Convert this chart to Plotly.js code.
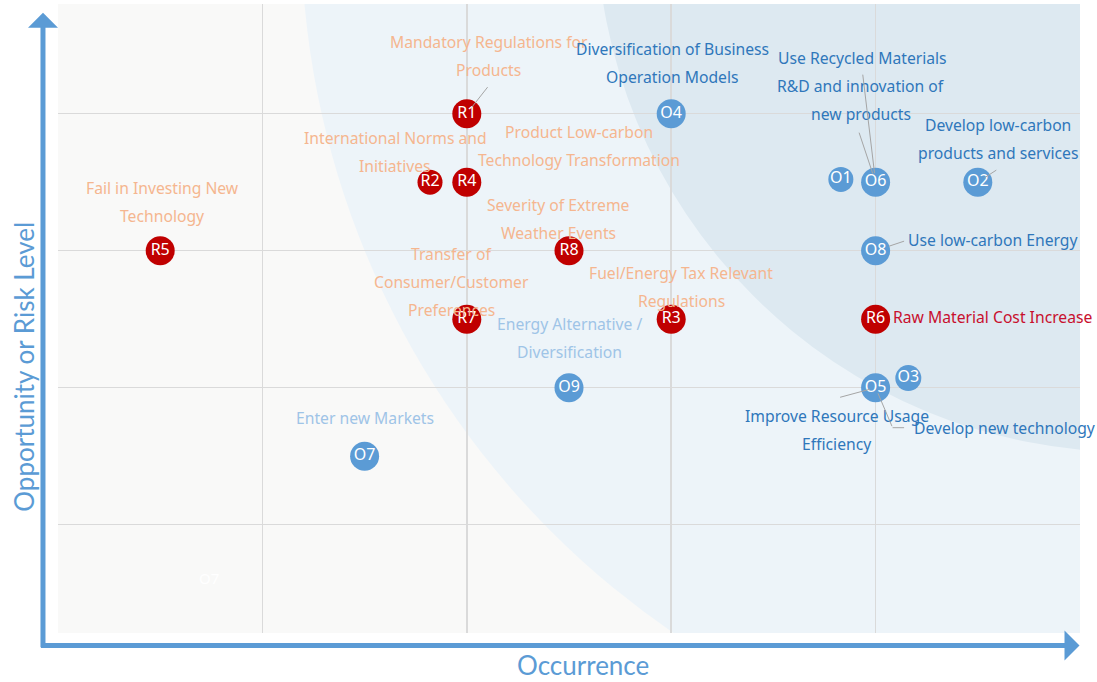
<!DOCTYPE html>
<html>
<head>
<meta charset="utf-8">
<script src="https://cdn.plot.ly/plotly-3.0.1.min.js"></script>
<style>
  html, body { margin: 0; padding: 0; background: #fff; }
  #chart { width: 1097px; height: 682px; }
</style>
</head>
<body>
<div id="chart"></div>
<script>
// risk / opportunity items
var codes      = ['R1', 'R2', 'R3', 'R4', 'R5', 'R6', 'R7', 'R8',
                  'O1', 'O2', 'O3', 'O4', 'O5', 'O6', 'O7', 'O8', 'O9'];
var occurrence = [2, 1.82, 3, 2, 0.5, 4, 2, 2.5,
                  3.83, 4.5, 4.16, 3, 4, 4, 1.5, 4, 2.5];
var level      = [4, 3.5, 2.5, 3.5, 3, 2.5, 2.5, 3,
                  3.52, 3.5, 2.07, 4, 2, 3.5, 1.5, 3, 2];

// descriptions, and the item each one belongs to
var labelFor  = ['R1', 'R2', 'R4', 'R5', 'R8', 'R7', 'R3', 'R6',
                 'O4', 'O6', 'O6', 'O2', 'O8', 'O5', 'O5', 'O9', 'O7'];
var labelText = [
  'Mandatory Regulations for<br>Products',
  'International Norms and<br>Initiatives',
  'Product Low-carbon<br>Technology Transformation',
  'Fail in Investing New<br>Technology',
  'Severity of Extreme<br>Weather Events',
  'Transfer of<br>Consumer/Customer<br>Preferences',
  'Fuel/Energy Tax Relevant<br>Regulations',
  'Raw Material Cost Increase',
  'Diversification of Business<br>Operation Models',
  'Use Recycled Materials',
  'R&D and innovation of<br>new products',
  'Develop low-carbon<br>products and services',
  'Use low-carbon Energy',
  'Improve Resource Usage<br>Efficiency',
  'Develop new technology',
  'Energy Alternative /<br>Diversification',
  'Enter new Markets'
];

// label placement (pixels from the marker to the text block centre) and look
var labelDx = [22, -35, 112, 2, -11, -15, 10, 117, 1, -13, -15, 20, 117, -39, 129, 0, 0];
var labelDy = [-58, -30, -36, -49, -32, -37, -32, -2, -51, -124, -82, -43, -11, 42, 40, -50, -38];
var tone    = ['r', 'r', 'r', 'r', 'r', 'r', 'r', 'hot',
               'o', 'o', 'o', 'o', 'o', 'o', 'o', 'ol', 'ol'];
var toneColor = { r: '#f5b68f', hot: '#c8102e', o: '#2f77bb', ol: '#9fc4e7' };
var LINE = 28;

// leader lines: [item, tail dx, tail dy, shift x, shift y, standoff]
var leaders = [
  ['R1', 22, -28, 0, 0, 8],
  ['O6', -13, -109, 0, 0, 9],
  ['O6', -17, -51, 0, 0, 9],
  ['O2', 20, -13, 0, 0, 8],
  ['O8', 30, -10, 0, 0, 14],
  ['O5', -37, 10, 0, 0, 6],
  ['O5', 17, 40, 0, 0, 6],
  ['O5', 13, 0, 17, -40, 0]
];

var markerSize = [29, 25, 29, 29, 29, 29, 29, 29,
                  25, 29, 26, 29, 29, 29, 29, 29, 29];

var FONT = '"Noto Sans", "Open Sans", sans-serif';
var TFONT = 'Lato, "Noto Sans", sans-serif';
var BLUE = '#5b9bd5';

var trace = {
  x: occurrence,
  y: level,
  text: codes,
  mode: 'markers+text',
  type: 'scatter',
  textposition: 'middle center',
  textfont: { family: FONT, size: 16, color: '#ffffff' },
  marker: {
    size: markerSize,
    color: codes.map(c => c[0] === 'R' ? '#c00000' : BLUE),
    opacity: 1,
    line: { width: 0 }
  },
  opacity: 1,
  hoverinfo: 'skip',
  cliponaxis: false,
  showlegend: false
};

var annotations = [];

// one annotation per text line so the line spacing matches
labelText.forEach(function (t, i) {
  var k = codes.indexOf(labelFor[i]);
  var lines = t.split('<br>');
  lines.forEach(function (s, j) {
    var dy = labelDy[i] + (j - (lines.length - 1) / 2) * LINE;
    annotations.push({
      x: occurrence[k], y: level[k], xref: 'x', yref: 'y',
      text: s, showarrow: false,
      xshift: labelDx[i], yshift: -dy,
      font: { family: FONT, size: 15.7, color: toneColor[tone[i]] }
    });
  });
});

leaders.forEach(function (l) {
  var k = codes.indexOf(l[0]);
  annotations.push({
    x: occurrence[k], y: level[k], xref: 'x', yref: 'y', text: '',
    showarrow: true, ax: l[1], ay: l[2], xshift: l[3], yshift: l[4],
    arrowhead: 0, arrowwidth: 1, arrowcolor: '#a5a5a5', standoff: l[5]
  });
});

// faint leftover label in the lower-left cell
annotations.push({
  x: 0.74, y: 0.61, xref: 'x', yref: 'y', text: 'O7', showarrow: false,
  font: { family: FONT, size: 15, color: '#ffffff' }
});

// axis arrows and titles
annotations.push({
  x: -0.0147, y: 0.986, xref: 'paper', yref: 'paper', text: '',
  showarrow: true, ax: 0, ay: 636, arrowhead: 1, arrowsize: 1, arrowwidth: 5,
  arrowcolor: BLUE, standoff: 0
});
annotations.push({
  x: 0.9995, y: -0.0199, xref: 'paper', yref: 'paper', text: '',
  showarrow: true, ax: -1040, ay: 0, arrowhead: 1, arrowsize: 1, arrowwidth: 5,
  arrowcolor: BLUE, standoff: 0
});
annotations.push({
  x: 0.514, y: -0.0777, xref: 'paper', yref: 'paper',
  xanchor: 'center', yanchor: 'bottom', borderpad: 0,
  text: 'Occurrence', showarrow: false,
  font: { family: TFONT, size: 26, color: BLUE }
});
annotations.push({
  x: -0.0335, y: 0.423, xref: 'paper', yref: 'paper',
  xanchor: 'center', yanchor: 'middle',
  text: 'Opportunity or Risk Level', showarrow: false, textangle: -90,
  font: { family: TFONT, size: 26, color: BLUE }
});

var layout = {
  width: 1097,
  height: 682,
  margin: { l: 58, r: 17, t: 4, b: 49 },
  paper_bgcolor: '#ffffff',
  plot_bgcolor: '#f9f9f8',
  xaxis: {
    range: [0, 5], tickvals: [1, 2, 3, 4, 5], showticklabels: false,
    gridcolor: '#dadada', gridwidth: 1.5, zeroline: false, showline: false,
    fixedrange: true
  },
  yaxis: {
    range: [0.21, 4.8], tickvals: [1, 2, 3, 4], showticklabels: false,
    gridcolor: '#dadada', gridwidth: 1.5, zeroline: false, showline: false,
    fixedrange: true
  },
  shapes: [
    { type: 'circle', xref: 'x', yref: 'y', layer: 'below',
      x0: 1.189, x1: 9.555, y0: -0.879, y1: 11.603,
      fillcolor: '#edf4f9', line: { width: 0 } },
    { type: 'circle', xref: 'x', yref: 'y', layer: 'below',
      x0: 2.633, x1: 7.867, y0: 1.530, y1: 9.340,
      fillcolor: '#dde9f1', line: { width: 0 } }
  ],
  annotations: annotations,
  hovermode: false
};

Plotly.newPlot('chart', [trace], layout, { displayModeBar: false, staticPlot: true });
</script>
</body>
</html>
